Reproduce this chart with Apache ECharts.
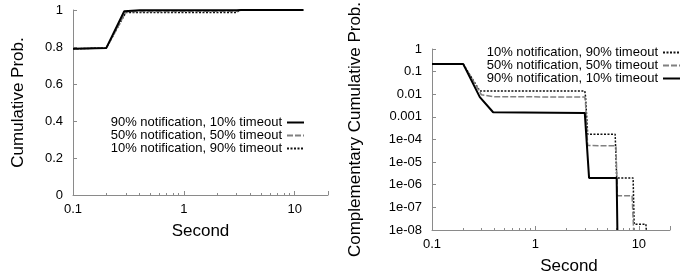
<!DOCTYPE html>
<html>
<head>
<meta charset="utf-8">
<script src="https://cdn.jsdelivr.net/npm/echarts@6/dist/echarts.min.js"></script>
<style>
  html, body { margin: 0; padding: 0; background: #fff; }
  #chart { width: 695px; height: 280px; }
</style>
</head>
<body>
<div id="chart"></div>
<script>
// series names
const name90 = '90% notification, 10% timeout'
const name50 = '50% notification, 50% timeout'
const name10 = '10% notification, 90% timeout'

// left: cumulative prob.
const cdfX90 = [0.1, 0.2, 0.29, 0.4, 3.0, 3.3, 6.2, 12]
const cdfY90 = [0.79, 0.795, 0.993, 0.9985, 0.9986, 1, 1, 1]
const cdfX50 = [0.1, 0.2, 0.3, 0.4, 3.0, 3.2, 6.0, 6.2, 9.0, 12]
const cdfY50 = [0.79, 0.795, 0.99, 0.9925, 0.9927, 0.99995, 0.99995, 1, 1, 1]
const cdfX10 = [0.1, 0.2, 0.3, 3.0, 3.2, 12]
const cdfY10 = [0.79, 0.795, 0.987, 0.987, 0.9998, 1]

// right: complementary cumulative prob.
const ccdfX90 = [0.1, 0.2, 0.29, 0.39, 3.0, 3.3, 6.1, 6.2]
const ccdfY90 = [0.22, 0.22, 0.0075, 0.0016, 0.0015, 2e-6, 2e-6, 1e-8]
const ccdfX50 = [0.1, 0.2, 0.3, 0.4, 3.0, 3.05, 3.2, 6.0, 6.2, 8.6, 8.9]
const ccdfY50 = [0.22, 0.22, 0.0095, 0.0078, 0.0075, 0.004, 5.4e-5, 5.3e-5, 3.3e-7, 3.3e-7, 1e-8]
const ccdfX10 = [0.1, 0.2, 0.29, 3.0, 3.05, 3.2, 5.9, 6.1, 8.8, 9.0, 11.7, 11.8]
const ccdfY10 = [0.22, 0.22, 0.014, 0.0138, 0.008, 1.7e-4, 1.7e-4, 2e-6, 2e-6, 1.8e-8, 1.8e-8, 1e-8]

const font = 'Liberation Sans, Arial, Helvetica, sans-serif'
const axisGray = '#8a8a8a'

function zip(xs, ys) {
  return xs.map((x, i) => [x, ys[i]])
}

const styles = {}
styles[name90] = { color: '#000', width: 2, type: 'solid' }
styles[name50] = { color: '#808080', width: 1.5, type: [6, 2] }
styles[name10] = { color: '#111', width: 1.5, type: [2, 1.5] }

function line(name, xs, ys, idx) {
  return {
    name: name,
    type: 'line',
    xAxisIndex: idx,
    yAxisIndex: idx,
    data: zip(xs, ys),
    symbol: 'none',
    lineStyle: styles[name],
    itemStyle: { color: styles[name].color },
    animation: false
  }
}

function xAxisOpt(idx, namePad) {
  return {
    type: 'log',
    gridIndex: idx,
    logBase: 10,
    min: 0.1,
    max: 20,
    name: 'Second',
    nameLocation: 'middle',
    nameGap: 28,
    nameTextStyle: { fontFamily: font, fontSize: 17, color: '#000', padding: namePad },
    axisLine: { lineStyle: { color: axisGray, width: 1 } },
    axisTick: { inside: true, length: 4, lineStyle: { color: axisGray } },
    minorTick: { show: true, splitNumber: 9, length: 2, lineStyle: { color: axisGray } },
    axisLabel: { fontFamily: font, fontSize: 13, color: '#000', margin: 8, showMaxLabel: false },
    splitLine: { show: false }
  }
}

const legendBase = {
  orient: 'vertical',
  align: 'right',
  itemWidth: 17,
  itemHeight: 10,
  itemGap: 0,
  itemStyle: { opacity: 0 },
  textStyle: { fontFamily: font, fontSize: 13, color: '#000', lineHeight: 10 },
  inactiveColor: '#ccc'
}

const option = {
  animation: false,
  grid: [
    { left: 73, right: 367, top: 10, bottom: 85 },
    { left: 432, right: 25, top: 49, bottom: 48 }
  ],
  legend: [
    Object.assign({}, legendBase, { right: 385, top: 111, data: [name90, name50, name10] }),
    Object.assign({}, legendBase, { right: 9, top: 41, data: [name10, name50, name90] })
  ],
  xAxis: [xAxisOpt(0, [0, 0, 0, 0]), xAxisOpt(1, [0, 0, 0, 36])],
  yAxis: [
    {
      type: 'value',
      gridIndex: 0,
      min: 0,
      max: 1,
      interval: 0.2,
      name: 'Cumulative Prob.',
      nameLocation: 'middle',
      nameGap: 46,
      nameTextStyle: { fontFamily: font, fontSize: 17, color: '#000' },
      axisLine: { show: true, lineStyle: { color: axisGray, width: 1 } },
      axisTick: { show: true, inside: true, length: 4, lineStyle: { color: axisGray } },
      axisLabel: { fontFamily: font, fontSize: 13, color: '#000', margin: 10 },
      splitLine: { show: false }
    },
    {
      type: 'log',
      gridIndex: 1,
      logBase: 10,
      min: 1e-8,
      max: 1,
      name: 'Complementary Cumulative Prob.',
      nameLocation: 'middle',
      nameGap: 68,
      nameTextStyle: { fontFamily: font, fontSize: 17, color: '#000', padding: [0, 0, 0, 20] },
      axisLine: { show: true, lineStyle: { color: axisGray, width: 1 } },
      axisTick: { show: true, inside: true, length: 4, lineStyle: { color: axisGray } },
      axisLabel: {
        fontFamily: font, fontSize: 13, color: '#000', margin: 10,
        formatter: function (v) {
          const e = Math.round(Math.log10(v))
          if (e >= -3) return String(Math.pow(10, e).toFixed(Math.max(0, -e)))
          return '1e-0' + (-e)
        }
      },
      splitLine: { show: false }
    }
  ],
  series: [
    line(name10, cdfX10, cdfY10, 0),
    line(name50, cdfX50, cdfY50, 0),
    line(name90, cdfX90, cdfY90, 0),
    line(name10, ccdfX10, ccdfY10, 1),
    line(name50, ccdfX50, ccdfY50, 1),
    line(name90, ccdfX90, ccdfY90, 1)
  ]
}

const myChart = echarts.init(document.getElementById('chart'), null, { renderer: 'canvas' })
myChart.setOption(option)
</script>
</body>
</html>
